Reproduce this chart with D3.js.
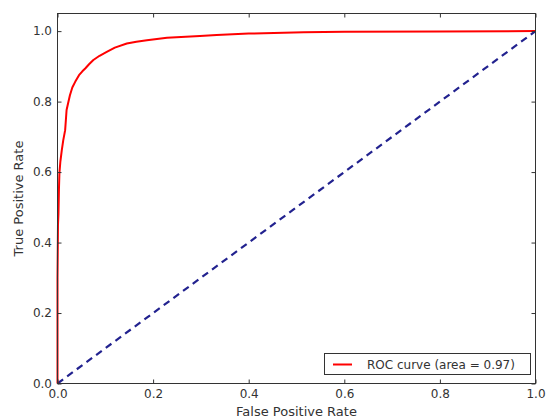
<!DOCTYPE html>
<html><head><meta charset="utf-8">
<script src="https://cdn.jsdelivr.net/npm/d3@7"></script>
<style>body{margin:0;background:#fff;} svg{display:block;font-family:"DejaVu Sans",sans-serif;}</style>
</head><body><svg id="c" width="546" height="419"></svg>
<script>
const fpr = [0, 0, 0.001, 0.002, 0.003, 0.004, 0.006, 0.009, 0.012, 0.016, 0.019, 0.023, 0.026, 0.031, 0.037, 0.045, 0.052, 0.058, 0.066, 0.075, 0.088, 0.103, 0.12, 0.145, 0.165, 0.187, 0.229, 0.298, 0.333, 0.4, 0.515, 0.6, 0.8, 1.0];
const tpr = [0, 0.3, 0.45, 0.482, 0.55, 0.597, 0.63, 0.662, 0.69, 0.719, 0.776, 0.8, 0.818, 0.84, 0.856, 0.875, 0.886, 0.894, 0.906, 0.918, 0.93, 0.941, 0.953, 0.965, 0.97, 0.974, 0.981, 0.986, 0.989, 0.993, 0.997, 0.998, 0.999, 1.0];
const chanceX = [0, 1];
const chanceY = [0, 1];
const xTicks = [0, 0.2, 0.4, 0.6, 0.8, 1.0];
const yTicks = [0, 0.2, 0.4, 0.6, 0.8, 1.0];
const legendLabel = "ROC curve (area = 0.97)";

const svg = d3.select("#c");
const L = 57.5, R = 535.5, T = 13.5, B = 383.5;
const x = d3.scaleLinear().domain([0, 1]).range([L, R]);
const y = d3.scaleLinear().domain([0, 1.05]).range([B, T]);
const axisColor = "#333";

const g = svg.append("g");
const line = d3.line().x(d => x(d[0])).y(d => y(d[1]));

g.append("path").datum(d3.zip(chanceX, chanceY)).attr("d", line)
  .attr("fill", "none").attr("stroke", "#22228f").attr("stroke-width", 2.2)
  .attr("stroke-dasharray", "7,5");

g.append("path").datum(d3.zip(fpr, tpr)).attr("d", line)
  .attr("fill", "none").attr("stroke", "#ff0000").attr("stroke-width", 2)
  .attr("stroke-linejoin", "round");

function styleAxis(sel) {
  sel.select(".domain").remove();
  sel.selectAll("line").attr("stroke", axisColor);
  sel.selectAll("text").attr("fill", axisColor).style("font-size", "12px").style("font-family", "DejaVu Sans");
}
const fmt = d3.format(".1f");
svg.append("g").attr("transform", `translate(0,${B})`)
  .call(d3.axisBottom(x).tickValues(xTicks).tickFormat(fmt).tickSizeInner(-4).tickSizeOuter(0).tickPadding(6))
  .call(styleAxis);
svg.append("g").attr("transform", `translate(0,${T})`)
  .call(d3.axisTop(x).tickValues(xTicks).tickFormat("").tickSizeInner(-4).tickSizeOuter(0))
  .call(styleAxis);
svg.append("g").attr("transform", `translate(${L},0)`)
  .call(d3.axisLeft(y).tickValues(yTicks).tickFormat(fmt).tickSizeInner(-4).tickSizeOuter(0).tickPadding(5.5))
  .call(styleAxis);
svg.append("g").attr("transform", `translate(${R},0)`)
  .call(d3.axisRight(y).tickValues(yTicks).tickFormat("").tickSizeInner(-4).tickSizeOuter(0))
  .call(styleAxis);

svg.append("rect").attr("x", L).attr("y", T).attr("width", R - L).attr("height", B - T)
  .attr("fill", "none").attr("stroke", axisColor).attr("stroke-width", 1);

svg.append("text").attr("x", (L + R) / 2).attr("y", 416).attr("text-anchor", "middle")
  .attr("fill", axisColor).style("font-size", "13px").text("False Positive Rate");
svg.append("text").attr("transform", `translate(23,${(T + B) / 2}) rotate(-90)`).attr("text-anchor", "middle")
  .attr("fill", axisColor).style("font-size", "13px").text("True Positive Rate");

const lg = svg.append("g");
lg.append("rect").attr("x", 324.5).attr("y", 353.5).attr("width", 206).attr("height", 21)
  .attr("fill", "#fff").attr("stroke", axisColor).attr("stroke-width", 1);
lg.append("line").attr("x1", 333).attr("x2", 352).attr("y1", 364.5).attr("y2", 364.5)
  .attr("stroke", "#ff0000").attr("stroke-width", 2);
lg.append("text").attr("x", 367).attr("y", 368.5).attr("fill", axisColor).style("font-size", "12px").text(legendLabel);
</script></body></html>
